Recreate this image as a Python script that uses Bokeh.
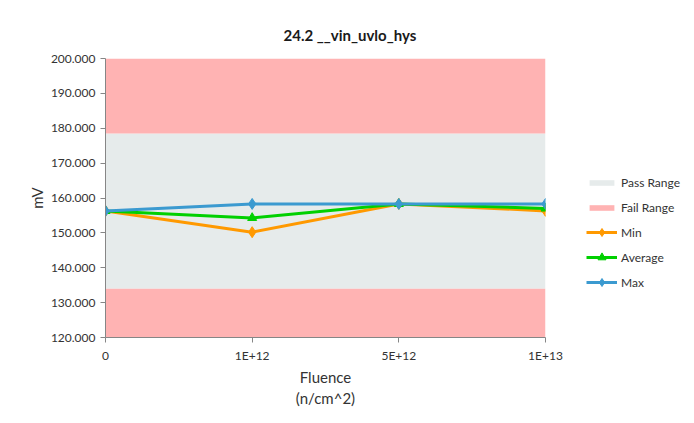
from bokeh.plotting import figure
from bokeh.layouts import row
from bokeh.models import FixedTicker, Legend, LegendItem, NumeralTickFormatter, Range1d
from bokeh.embed import file_html
from bokeh.resources import INLINE

categories = ["0", "1E+12", "5E+12", "1E+13"]
min_vals = [156.3, 150.2, 158.3, 156.3]
avg_vals = [156.3, 154.3, 158.3, 157.0]
max_vals = [156.3, 158.3, 158.3, 158.3]
pass_low, pass_high = 134.0, 178.5
y_min, y_max = 120.0, 200.0

xs = list(range(len(categories)))
FONT = "Lato"
H = 418
PASS_COL, FAIL_COL = "#E6EBEB", "#FFB3B3"
series = [("Min", min_vals, "#FF9900", "diamond"),
          ("Average", avg_vals, "#00D000", "triangle"),
          ("Max", max_vals, "#3B9AD0", "diamond")]

p = figure(width=575, height=H, output_backend="svg", toolbar_location=None,
           x_range=Range1d(0, len(categories) - 1), y_range=Range1d(y_min, y_max),
           min_border_left=105, min_border_right=30, min_border_top=58, min_border_bottom=81)
p.title.text = "24.2 __vin_uvlo_hys"
p.title.align = "left"
p.title.offset = 178
p.title.standoff = 30
p.title.text_font = FONT
p.title.text_font_size = "15px"
p.title.text_font_style = "bold"
p.title.text_color = "#1a1a1a"

p.xgrid.visible = False
p.ygrid.visible = False
p.outline_line_color = None


def add_marks(fig):
    x0, x1 = 0, len(categories) - 1
    pr = fig.quad(left=[x0], right=[x1], bottom=[pass_low], top=[pass_high],
                  fill_color=PASS_COL, line_color=None)
    fr = fig.quad(left=[x0, x0], right=[x1, x1], bottom=[pass_high, y_min], top=[y_max, pass_low],
                  fill_color=FAIL_COL, line_color=None)
    out = [("Pass Range", [pr]), ("Fail Range", [fr])]
    for name, vals, col, mk in series:
        l = fig.line(xs, vals, line_color=col, line_width=3)
        m = fig.scatter(xs, vals, marker=mk, size=11 if mk == "diamond" else 9,
                        fill_color=col, line_color=col)
        out.append((name, [l, m]))
    return out


add_marks(p)

p.xaxis.ticker = FixedTicker(ticks=xs)
p.xaxis.major_label_overrides = {i: c for i, c in enumerate(categories)}
p.xaxis.axis_label = "Fluence\n(n/cm^2)"
p.yaxis.ticker = FixedTicker(ticks=[120 + 10 * i for i in range(9)])
p.yaxis.formatter = NumeralTickFormatter(format="0.000")
p.yaxis.axis_label = "mV"
for ax in (p.xaxis[0], p.yaxis[0]):
    ax.axis_line_color = "#868686"
    ax.major_tick_line_color = "#868686"
    ax.major_tick_in = 0
    ax.major_tick_out = 5
    ax.minor_tick_line_color = None
    ax.major_label_text_font = FONT
    ax.major_label_text_font_size = "12px"
    ax.major_label_text_color = "#333333"
    ax.axis_label_text_font = FONT
    ax.axis_label_text_font_size = "15px"
    ax.axis_label_text_font_style = "normal"
    ax.axis_label_text_color = "#333333"
p.yaxis.axis_label_standoff = 2
p.xaxis.axis_label_standoff = 2

# legend panel (its marks lie outside its visible ranges; only the legends show)
lg = figure(width=115, height=H, output_backend="svg", toolbar_location=None,
            x_axis_type=None, y_axis_type=None, min_border=0,
            x_range=Range1d(100, 101), y_range=Range1d(0, 1))
lg.outline_line_color = None
lg.xgrid.visible = False
lg.ygrid.visible = False
all_items = [LegendItem(label=name, renderers=rs) for name, rs in add_marks(lg)]

common = dict(background_fill_alpha=0, border_line_color=None, glyph_width=31,
              label_height=20, spacing=5, padding=0, margin=0, label_standoff=4,
              label_text_font=FONT, label_text_font_size="12px",
              label_text_color="#333333")
lg.add_layout(Legend(items=all_items[:2], location=(11, 120), glyph_height=7, **common), "center")
lg.add_layout(Legend(items=all_items[2:], location=(11, 45), glyph_height=20, **common), "center")

open("out.html", "w").write(file_html(row(p, lg), INLINE))
